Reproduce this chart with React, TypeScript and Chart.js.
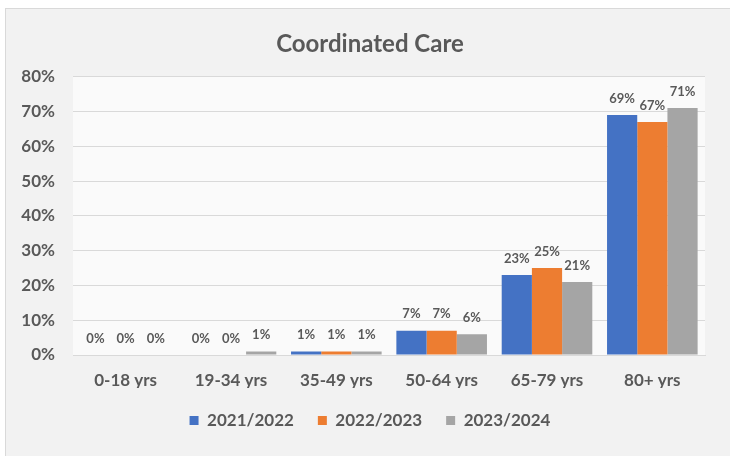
import React, { useEffect, useRef } from "react";
import { Chart, registerables } from "chart.js";

Chart.register(...registerables);

const categories = ["0-18 yrs", "19-34 yrs", "35-49 yrs", "50-64 yrs", "65-79 yrs", "80+ yrs"];
const seriesNames = ["2021/2022", "2022/2023", "2023/2024"];
const values2021 = [0, 0, 1, 7, 23, 69];
const values2022 = [0, 0, 1, 7, 25, 67];
const values2023 = [0, 1, 1, 6, 21, 71];
const seriesColors = ["#4472C4", "#ED7D31", "#A5A5A5"];
const yTicks = [0, 10, 20, 30, 40, 50, 60, 70, 80];

const FONT = "Lato, 'Open Sans', sans-serif";
const TEXT = "#595959";

const plotBg = {
  id: "plotBg",
  beforeDraw(chart: any) {
    const { ctx, chartArea } = chart;
    ctx.save();
    ctx.fillStyle = "#fafafa";
    ctx.fillRect(chartArea.left, chartArea.top, chartArea.right - chartArea.left, chartArea.bottom - chartArea.top);
    ctx.restore();
  },
};

const dataLabels = {
  id: "dataLabels",
  afterDatasetsDraw(chart: any) {
    const { ctx } = chart;
    ctx.save();
    ctx.font = `bold 13px ${FONT}`;
    ctx.fillStyle = TEXT;
    ctx.textAlign = "center";
    ctx.textBaseline = "bottom";
    chart.data.datasets.forEach((ds: any, i: number) => {
      const meta = chart.getDatasetMeta(i);
      meta.data.forEach((bar: any, j: number) => {
        ctx.fillText(`${ds.data[j]}%`, bar.x, bar.y - 10);
      });
    });
    ctx.restore();
  },
};

export default function App() {
  const ref = useRef<HTMLCanvasElement>(null);
  useEffect(() => {
    if (!ref.current) return;
    const chart = new Chart(ref.current, {
      type: "bar",
      data: {
        labels: categories,
        datasets: [values2021, values2022, values2023].map((d, i) => ({
          label: seriesNames[i],
          data: d,
          backgroundColor: seriesColors[i],
          borderWidth: 0,
          categoryPercentage: 0.86,
          barPercentage: 1,
        })),
      },
      options: {
        animation: false,
        responsive: false,
        maintainAspectRatio: false,
        layout: { padding: { left: 0, right: 0, top: 0, bottom: 17 } },
        plugins: {
          title: {
            display: true,
            text: "Coordinated Care",
            color: TEXT,
            font: { family: FONT, size: 24, weight: "bold" },
            padding: { top: 21, bottom: 18 },
          },
          legend: {
            position: "bottom",
            labels: {
              color: TEXT,
              font: { family: FONT, size: 17, weight: "bold" },
              boxWidth: 9,
              boxHeight: 9,
              padding: 24,
            },
          },
          tooltip: { enabled: false },
        },
        scales: {
          x: {
            grid: { display: false },
            border: { color: "#d9d9d9" },
            ticks: { color: TEXT, font: { family: FONT, size: 17, weight: "bold" }, padding: 7 },
            afterFit(scale: any) {
              scale.height = 33;
            },
          },
          y: {
            min: 0,
            max: 80,
            afterBuildTicks(scale: any) {
              scale.ticks = yTicks.map((v) => ({ value: v }));
            },
            grid: { color: "#d9d9d9", drawTicks: false },
            border: { display: false },
            ticks: {
              color: TEXT,
              font: { family: FONT, size: 17, weight: "bold" },
              padding: 18,
              callback: (v: any) => `${v}%`,
            },
            afterFit(scale: any) {
              scale.width = 67;
            },
          },
          yRight: {
            type: "linear",
            position: "right",
            display: true,
            grid: { display: false, drawTicks: false },
            border: { display: false },
            ticks: { display: false },
            afterFit(scale: any) {
              scale.width = 29;
            },
          },
        },
      },
      plugins: [plotBg, dataLabels],
    });
    return () => chart.destroy();
  }, []);

  return (
    <div style={{ position: "fixed", left: 0, top: 0, width: 730, height: 456, background: "#ffffff", overflow: "hidden" }}>
      <div
        style={{
          position: "absolute",
          left: 5,
          top: 8,
          width: 740,
          height: 460,
          background: "#f2f2f2",
          border: "1px solid #d9d9d9",
        }}
      >
        <canvas ref={ref} width={728} height={447} style={{ display: "block", width: 728, height: 447 }} />
      </div>
    </div>
  );
}
